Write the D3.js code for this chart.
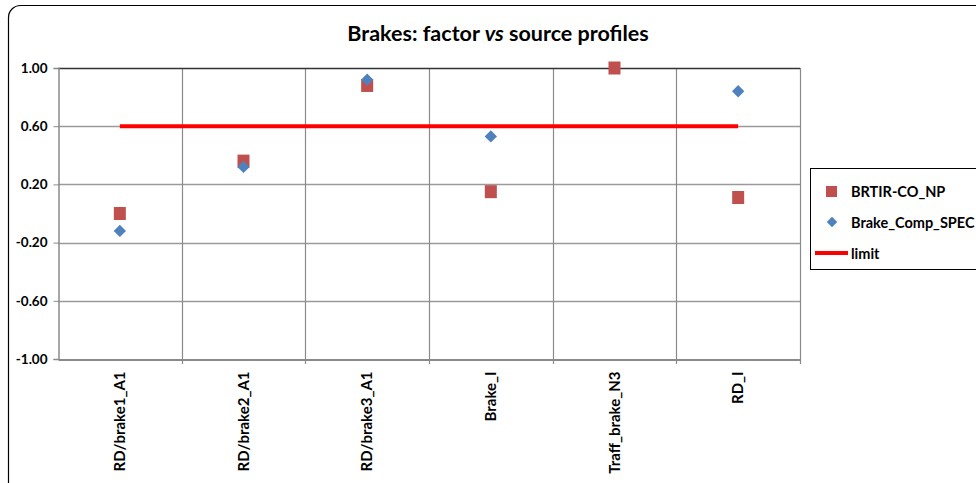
<html>
<head>
    <meta charset="utf-8">
    <script src="https://cdn.jsdelivr.net/npm/d3@7"></script>
    <style>
        body { margin: 0; background: #fff; }
        text { font-family: Lato, "Open Sans", sans-serif; font-weight: bold; }
    </style>
</head>
<body>
    <script>
        // data
        var categories = ['RD/brake1_A1', 'RD/brake2_A1', 'RD/brake3_A1', 'Brake_I', 'Traff_brake_N3', 'RD_I'];
        var brtir = [0.00, 0.36, 0.88, 0.15, 1.00, 0.11];       // BRTIR-CO_NP
        var brakeComp = [-0.12, 0.32, 0.92, 0.53, null, 0.84];  // Brake_Comp_SPEC
        var limit = [0.60, 0.60, 0.60, 0.60, 0.60, 0.60];
        var yTicks = [1.00, 0.60, 0.20, -0.20, -0.60, -1.00];

        var W = 976, H = 483;
        var mLeft = 58, mRight = 800, mTop = 68, mBottom = 359;

        var svg = d3.select('body').append('svg')
            .attr('width', W)
            .attr('height', H);

        // outer chart frame (cut off on right / bottom)
        svg.append('rect')
            .attr('x', 8.5).attr('y', 5.5)
            .attr('width', 1000).attr('height', 520)
            .attr('rx', 12).attr('ry', 12)
            .attr('fill', '#fff')
            .attr('stroke', '#000')
            .attr('stroke-width', 1.2);

        var x = d3.scaleBand().domain(categories).range([mLeft, mRight]);
        var y = d3.scaleLinear().domain([-1, 1]).range([mBottom, mTop]);

        // title
        svg.append('text')
            .attr('x', 498).attr('y', 41)
            .attr('text-anchor', 'middle')
            .attr('font-size', 21.5)
            .selectAll('tspan')
            .data([['Brakes: factor ', 'normal'], ['vs', 'italic'], [' source profiles', 'normal']])
            .enter().append('tspan')
            .attr('font-style', (d) => d[1])
            .text((d) => d[0]);

        // horizontal grid
        svg.append('g')
            .selectAll('line')
            .data(yTicks.filter((d) => d > -1 && d < 1))
            .enter().append('line')
            .attr('x1', mLeft).attr('x2', mRight)
            .attr('y1', (d) => Math.round(y(d)) + 0.5)
            .attr('y2', (d) => Math.round(y(d)) + 0.5)
            .attr('stroke', '#9a9a9a').attr('stroke-width', 1.3);

        // vertical grid at category boundaries
        svg.append('g')
            .selectAll('line')
            .data(categories)
            .enter().append('line')
            .attr('x1', (d) => Math.round(x(d) + x.bandwidth()) + 0.5)
            .attr('x2', (d) => Math.round(x(d) + x.bandwidth()) + 0.5)
            .attr('y1', mTop).attr('y2', mBottom + 5)
            .attr('stroke', '#8a8a8a').attr('stroke-width', 1.2);

        // top border of plot
        svg.append('line')
            .attr('x1', mLeft).attr('x2', mRight)
            .attr('y1', mTop + 0.5).attr('y2', mTop + 0.5)
            .attr('stroke', '#333').attr('stroke-width', 1.3);

        // y axis
        var yAxis = svg.append('g')
            .attr('transform', 'translate(' + (mLeft + 0.5) + ',0)')
            .call(d3.axisLeft(y).tickValues(yTicks).tickFormat((d) => d.toFixed(2)).tickSize(5).tickPadding(6));
        yAxis.select('.domain').attr('stroke', '#8a8a8a').attr('stroke-width', 1.5);
        yAxis.selectAll('.tick line').attr('stroke', '#8a8a8a');
        yAxis.selectAll('.tick text').attr('font-size', 13.5).attr('fill', '#000')
            .attr('font-family', 'Lato, sans-serif');

        // x axis
        var xAxis = svg.append('g')
            .attr('transform', 'translate(0,' + (mBottom + 0.5) + ')')
            .call(d3.axisBottom(x).tickSize(0).tickPadding(0));
        xAxis.select('.domain').attr('stroke', '#8a8a8a').attr('stroke-width', 2);
        xAxis.selectAll('.tick text')
            .attr('font-size', 15).attr('fill', '#000')
            .attr('font-family', 'Lato, sans-serif')
            .attr('transform', 'rotate(-90)')
            .attr('text-anchor', 'end')
            .attr('x', -12).attr('y', 0).attr('dy', '0.35em');

        var cx = (i) => x(categories[i]) + x.bandwidth() / 2;

        // limit line
        var line = d3.line()
            .x((d, i) => cx(i))
            .y((d) => y(d));
        svg.append('path')
            .datum(limit)
            .attr('d', line)
            .attr('fill', 'none')
            .attr('stroke', '#ff0000')
            .attr('stroke-width', 4);

        // BRTIR-CO_NP squares
        svg.append('g')
            .selectAll('rect')
            .data(brtir.map((v, i) => ({ v: v, i: i })).filter((d) => d.v != null))
            .enter().append('rect')
            .attr('x', (d) => cx(d.i) - 6)
            .attr('y', (d) => y(d.v) - 6.5)
            .attr('width', 12).attr('height', 13)
            .attr('fill', '#c0504d');

        // Brake_Comp_SPEC diamonds
        var diamond = d3.symbol().type(d3.symbolSquare).size(76);
        svg.append('g')
            .selectAll('path')
            .data(brakeComp.map((v, i) => ({ v: v, i: i })).filter((d) => d.v != null))
            .enter().append('path')
            .attr('d', diamond)
            .attr('transform', (d) => 'translate(' + cx(d.i) + ',' + y(d.v) + ') rotate(45)')
            .attr('fill', '#4f81bd');

        // legend
        var lg = svg.append('g');
        lg.append('rect')
            .attr('x', 810.5).attr('y', 168.5)
            .attr('width', 200).attr('height', 101)
            .attr('fill', '#fff').attr('stroke', '#000').attr('stroke-width', 1);
        lg.append('rect')
            .attr('x', 826).attr('y', 186).attr('width', 11).attr('height', 11)
            .attr('fill', '#c0504d');
        lg.append('path')
            .attr('d', d3.symbol().type(d3.symbolSquare).size(55))
            .attr('transform', 'translate(832,222) rotate(45)')
            .attr('fill', '#4f81bd');
        lg.append('line')
            .attr('x1', 815).attr('x2', 848).attr('y1', 253).attr('y2', 253)
            .attr('stroke', '#ff0000').attr('stroke-width', 4);
        var names = ['BRTIR-CO_NP', 'Brake_Comp_SPEC', 'limit'];
        lg.selectAll('text.name')
            .data(names)
            .enter().append('text')
            .attr('class', 'name')
            .attr('x', 851)
            .attr('y', (d, i) => 192 + i * 31)
            .attr('dy', '0.35em')
            .attr('font-size', 14.5)
            .text((d) => d);
    </script>
</body>
</html>
